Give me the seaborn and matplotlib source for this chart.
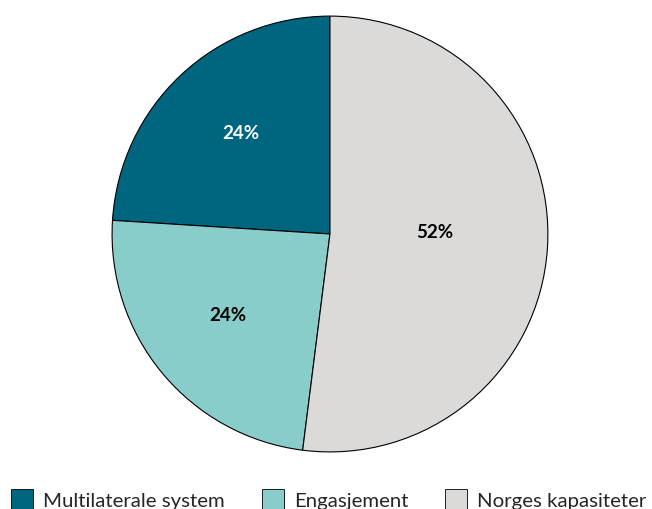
import matplotlib
matplotlib.use("Agg")
import matplotlib.pyplot as plt
import seaborn as sns
from matplotlib.patches import Patch

sns.set_theme(style="white")
plt.rcParams['font.family'] = ['Lato', 'DejaVu Sans']

# data
labels = ["Multilaterale system", "Engasjement", "Norges kapasiteter"]
values = [24, 24, 52]
colors = ["#006680", "#88cdc9", "#dcdad9"]
text_colors = ["white", "black", "black"]

fig = plt.figure(figsize=(6.52, 5.10), dpi=100)
ax = fig.add_axes([0.1702, 0.1098, 0.6718, 0.8588])

wedges, texts, autotexts = ax.pie(
    values, colors=colors, startangle=90, counterclock=True,
    autopct='%1.0f%%', pctdistance=0.61,
    wedgeprops={'edgecolor': 'black', 'linewidth': 0.8},
    textprops={'fontsize': 13.5, 'fontweight': 'bold'})
for t, c in zip(autotexts, text_colors):
    t.set_color(c)
# nudge labels to where the reference has them
x, y = autotexts[0].get_position()
autotexts[0].set_position((x + 0.01, y + 0.02))
x, y = autotexts[1].get_position()
autotexts[1].set_position((x, y + 0.02))
x, y = autotexts[2].get_position()
autotexts[2].set_position((x * 0.79, y * 0.79 + 0.04))

ax.set_xlim(-1.005, 1.005)
ax.set_ylim(-1.005, 1.005)
ax.set_aspect('equal')

handles = [Patch(facecolor=c, edgecolor='black', linewidth=0.6) for c in colors]
fig.legend(handles, labels, loc='lower left', bbox_to_anchor=(0.004, -0.016),
           ncol=3, frameon=False, fontsize=14.7, handlelength=1.08, handleheight=1.08,
           handletextpad=0.5, columnspacing=1.8, borderaxespad=0.0)

fig.savefig("out.png", dpi=100)
